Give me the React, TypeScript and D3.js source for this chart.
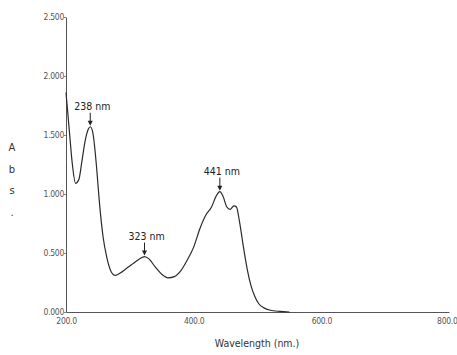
import React, { useEffect, useRef } from 'react'
import * as d3 from 'd3'

// spectrum
const wavelengths = [200, 205, 210, 215, 220, 225, 230, 235, 238, 242, 248, 252, 258, 264, 270, 277, 285, 295, 305, 315, 323, 330, 340, 350, 360, 370, 380, 390, 400, 410, 420, 428, 435, 441, 446, 452, 457, 463, 467, 472, 478, 484, 490, 496, 502, 510, 520, 535, 550]
const absorbance = [1.86, 1.55, 1.25, 1.09, 1.12, 1.28, 1.45, 1.55, 1.57, 1.52, 1.22, 0.95, 0.64, 0.46, 0.35, 0.31, 0.33, 0.37, 0.41, 0.45, 0.47, 0.45, 0.38, 0.32, 0.29, 0.3, 0.35, 0.44, 0.55, 0.71, 0.83, 0.89, 0.98, 1.02, 0.98, 0.89, 0.87, 0.9, 0.89, 0.76, 0.55, 0.36, 0.22, 0.13, 0.07, 0.035, 0.015, 0.005, 0]

const xTicks = [200, 400, 600, 800]
const yTicks = [0, 0.5, 1, 1.5, 2, 2.5]

const peakNm = [238, 323, 441]
const peakAbs = [1.57, 0.47, 1.02]
const peakLabels = ['238 nm', '323 nm', '441 nm']

const yLabelLetters = ['A', 'b', 's', '.']
const xLabel = 'Wavelength (nm.)'

const W = 457
const H = 355
const margin = { top: 17, right: 8, bottom: 43, left: 66 }
const FONT = "'DejaVu Sans', sans-serif"

export default function App() {
  const ref = useRef<SVGSVGElement>(null)

  useEffect(() => {
    const svg = d3.select(ref.current)
    svg.selectAll('*').remove()

    const x = d3.scaleLinear().domain([200, 800]).range([margin.left, W - margin.right])
    const y = d3.scaleLinear().domain([0, 2.5]).range([H - margin.bottom, margin.top])

    // y axis
    const yAxis = svg.append('g').attr('transform', `translate(${margin.left},0)`)
      .call(d3.axisLeft(y).tickValues(yTicks).tickFormat(d3.format('.3f')).tickSize(2).tickSizeOuter(0))
    yAxis.select('.domain').attr('stroke', '#555')
    yAxis.selectAll('line').attr('stroke', '#888')
    yAxis.selectAll('text').attr('fill', '#555').attr('font-size', 8.5).attr('font-family', FONT)
      .attr('font-stretch', 'condensed').attr('letter-spacing', -0.3).attr('x', -2)

    // x axis
    const xAxis = svg.append('g').attr('transform', `translate(0,${H - margin.bottom})`)
      .call(d3.axisBottom(x).tickValues(xTicks).tickFormat(d3.format('.1f')).tickSize(0).tickSizeOuter(0))
    xAxis.select('.domain').attr('stroke', '#555')
    xAxis.selectAll('text').attr('fill', '#555').attr('font-size', 8.5).attr('font-family', FONT)
      .attr('font-stretch', 'condensed').attr('letter-spacing', -0.3).attr('dy', '1.1em')
    xAxis.selectAll<SVGTextElement, number>('text').filter(d => d === 800).attr('text-anchor', 'end').attr('x', 8)

    // curve
    const pts = wavelengths.map((w, i) => [w, absorbance[i]] as [number, number])
    const line = d3.line<[number, number]>().x(d => x(d[0])).y(d => y(d[1])).curve(d3.curveMonotoneX)
    svg.append('path').datum(pts).attr('d', line).attr('fill', 'none').attr('stroke', '#2b2b2b').attr('stroke-width', 1.2)

    // peak labels with arrows
    const ann = svg.append('g')
    peakNm.forEach((nm, i) => {
      const px = x(nm)
      const py = y(peakAbs[i])
      ann.append('line').attr('x1', px).attr('x2', px).attr('y1', py - 14).attr('y2', py - 3)
        .attr('stroke', '#222').attr('stroke-width', 1)
      ann.append('path').attr('d', `M${px - 2.5},${py - 6}L${px + 2.5},${py - 6}L${px},${py - 1}Z`).attr('fill', '#222')
      ann.append('text').attr('x', px + 2).attr('y', py - 17).attr('text-anchor', 'middle')
        .attr('font-size', 10.5).attr('font-family', FONT).attr('font-stretch', 'condensed')
        .attr('fill', '#222').text(peakLabels[i])
    })

    // axis titles
    svg.append('g').selectAll('text').data(yLabelLetters).join('text')
      .attr('x', 12).attr('y', (_, i) => 151 + i * 21.5).attr('text-anchor', 'middle')
      .attr('font-size', 10).attr('font-family', FONT).attr('fill', '#333').text(d => d)
    svg.append('text').attr('x', 257).attr('y', 347).attr('text-anchor', 'middle')
      .attr('font-size', 10.5).attr('font-family', FONT).attr('font-stretch', 'condensed')
      .attr('fill', '#333').text(xLabel)
  }, [])

  return (
    <svg ref={ref} width={W} height={H} style={{ position: 'absolute', left: 0, top: 0, background: '#fff' }} />
  )
}
